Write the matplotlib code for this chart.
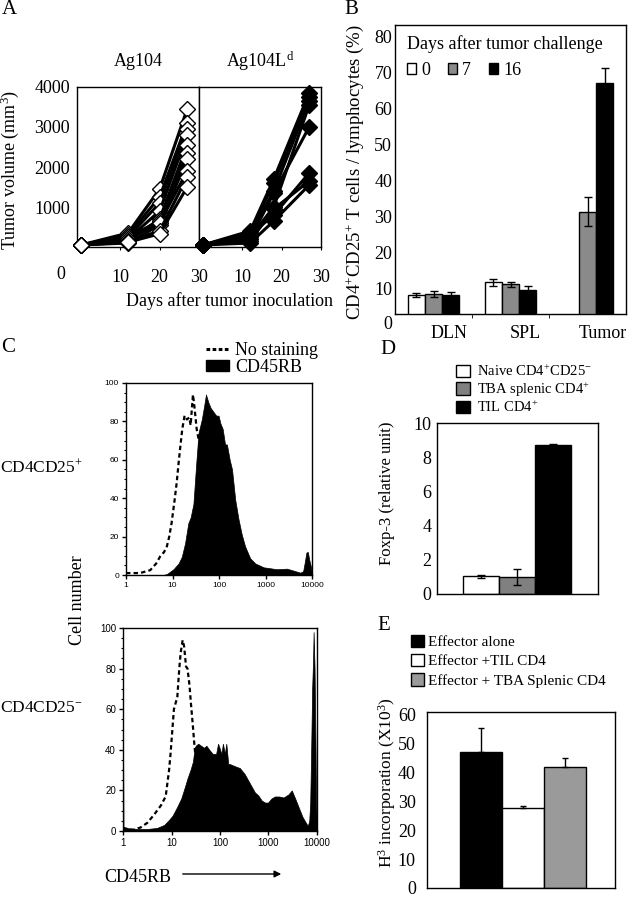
import matplotlib
matplotlib.use("Agg")
import matplotlib.pyplot as plt
import matplotlib.transforms as mtrans
from matplotlib.patches import Patch
from matplotlib.lines import Line2D
import numpy as np

plt.rcParams['font.family'] = ['Liberation Serif', 'DejaVu Serif']
plt.rcParams['mathtext.fontset'] = 'custom'
plt.rcParams['mathtext.rm'] = 'Liberation Serif'
plt.rcParams['mathtext.it'] = 'Liberation Serif:italic'
plt.rcParams['mathtext.bf'] = 'Liberation Serif:bold'
plt.rcParams['axes.linewidth'] = 1.0

# ---------------- data ----------------
# A: tumor growth, one list per time point, one value per mouse
ag104_days = [0, 12, 20, 27]
ag104_d0 = [50, 50, 50, 50, 50, 50, 50, 50, 50, 50]
ag104_d12 = [350, 300, 250, 200, 150, 250, 100, 200, 150, 120]
ag104_d20 = [1450, 1250, 1100, 900, 700, 650, 550, 600, 400, 330]
ag104_d27 = [3450, 3100, 2950, 2800, 2550, 2350, 2200, 1900, 1750, 1500]

ag104ld_days = [0, 12, 18, 27]
ag104ld_d0 = [50, 50, 50, 50, 50, 50, 50, 50]
ag104ld_d12 = [400, 350, 300, 250, 200, 300, 150, 100]
ag104ld_d18 = [1700, 1600, 1400, 1000, 1350, 800, 950, 650]
ag104ld_d27 = [3850, 3750, 3650, 3550, 3000, 1850, 1650, 1550]

# B: CD4+CD25+ percentage
groups_b = ['DLN', 'SPL', 'Tumor']
day0 = [8.0, 11.6, 0.0]
day0_err = [0.6, 0.9, 0.0]
day7 = [8.3, 11.0, 31.2]
day7_err = [0.9, 0.6, 4.0]
day16 = [8.0, 9.4, 67.1]
day16_err = [0.9, 1.2, 4.0]

# C: CD45RB histograms (log10 of fluorescence, cell number)
pos_nostain_lx = [0, 0.3, 0.52, 0.65, 0.73, 0.82, 0.88, 0.93, 0.98, 1.04, 1.09, 1.13,
                  1.16, 1.21, 1.26, 1.31, 1.36, 1.39, 1.44, 1.47, 1.52, 1.59, 1.66,
                  1.75, 1.85, 2.0, 2.2, 2.5, 3.0, 4.0]
pos_nostain = [1, 1, 2.5, 6, 9.5, 12, 15, 20, 27, 38, 48, 58, 65, 76, 83, 81, 82, 78,
               94, 88, 76, 67, 50, 32, 16, 6, 2, 0.5, 0, 0]
pos_rb_lx = [0.8, 0.88, 1.02, 1.13, 1.2, 1.27, 1.34, 1.39, 1.45, 1.49, 1.51, 1.56,
             1.63, 1.68, 1.72, 1.77, 1.82, 1.88, 1.94, 1.99, 2.03, 2.08, 2.13, 2.17,
             2.23, 2.28, 2.35, 2.42, 2.49, 2.56, 2.67, 2.78, 2.96, 3.25, 3.46, 3.6,
             3.75, 3.81, 3.84, 3.88, 3.91, 3.94, 3.98, 4.0]
pos_rb = [0, 0.5, 3, 6, 9.5, 16.5, 27, 30, 37, 51, 58, 74, 81, 88, 94, 90, 87, 85,
          83, 83, 79, 76, 68, 68, 60, 55, 39, 29, 21, 15, 8.7, 6, 4, 3, 3.3, 2.3,
          1.2, 2, 6, 11.7, 12, 8, 4, 0]

neg_nostain_lx = [0, 0.2, 0.36, 0.5, 0.64, 0.78, 0.88, 0.95, 0.98, 1.05, 1.12, 1.16,
                  1.19, 1.23, 1.26, 1.30, 1.33, 1.37, 1.40, 1.44, 1.47, 1.52, 1.6,
                  1.7, 1.85, 2.0, 2.5, 4.0]
neg_nostain = [1.5, 0.5, 1.7, 4, 8, 12.5, 17, 30, 38, 60, 66, 80, 88, 94, 91, 81, 80,
               72, 63, 52, 43, 30, 15, 6, 2, 0.5, 0, 0]
neg_rb_lx = [0, 0.01, 0.05, 0.3, 0.5, 0.7, 0.85, 0.95, 1.02, 1.12, 1.2, 1.28, 1.33,
             1.39, 1.44, 1.48, 1.5, 1.55, 1.61, 1.67, 1.72, 1.78, 1.85, 1.92, 1.96,
             1.99, 2.03, 2.06, 2.1, 2.13, 2.17, 2.2, 2.3, 2.41, 2.51, 2.58, 2.65,
             2.72, 2.79, 2.86, 2.93, 2.99, 3.06, 3.13, 3.22, 3.31, 3.41, 3.48, 3.55,
             3.6, 3.65, 3.7, 3.76, 3.81, 3.84, 3.86, 3.88, 3.9, 3.92, 3.93, 3.95,
             3.97, 3.98, 4.0]
neg_rb = [50, 2, 1.5, 1, 1, 1.5, 3, 5.5, 7.5, 12, 16, 22, 26, 30, 34, 41, 42, 43, 42,
          41, 42, 40, 38, 38, 43, 41, 38, 43, 38, 43, 33, 33, 32, 31, 28, 25, 22, 19,
          17.5, 15, 14, 14, 16, 17, 17, 16.5, 18, 20, 16, 13, 10, 7, 4.5, 2.5, 5, 14,
          40, 70, 85, 98, 80, 40, 15, 0]
hist_ticks = [1, 10, 100, 1000, 10000]
hist_ticklabels = ['1', '10', '100', '1000', '10000']

# D: Foxp-3
foxp3_labels = ['Naive CD4$^{+}$CD25$^{-}$', 'TBA splenic CD4$^{+}$', 'TIL CD4$^{+}$']
foxp3 = [1.04, 1.0, 8.7]
foxp3_err = [0.1, 0.45, 0.05]

# E: H3 incorporation
h3_labels = ['Effector alone', 'Effector +TIL CD4', 'Effector + TBA Splenic CD4']
h3 = [47.0, 27.6, 41.8]
h3_err = [8.6, 0.9, 3.2]

# ---------------- figure ----------------
W, H = 631, 899
fig = plt.figure(figsize=(W / 100, H / 100), dpi=100)


def box(l, t, r, b):
    return [l / W, 1 - b / H, (r - l) / W, (b - t) / H]


def ftext(x, y, s, **kw):
    fig.text(x / W, 1 - y / H, s, **kw)


# panel letters
for letter, (lx, ly) in {'A': (9, 10), 'B': (351, 9), 'C': (8, 347),
                         'D': (388, 350), 'E': (384, 626)}.items():
    ftext(lx, ly, letter, fontsize=15, ha='center', va='center')

# ---- A ----
axA1 = fig.add_axes(box(77, 87, 199, 247))
axA2 = fig.add_axes(box(199, 87, 321, 247))
seriesA = [
    (axA1, ag104_days, [ag104_d0, ag104_d12, ag104_d20, ag104_d27], 'white', 'Ag104'),
    (axA2, ag104ld_days, [ag104ld_d0, ag104ld_d12, ag104ld_d18, ag104ld_d27], 'black',
     'Ag104L$^{\\mathrm{d}}$'),
]
for ax, days, cols, fc, title in seriesA:
    n = len(cols[0])
    for i in range(n):
        ax.plot(days, [c[i] for c in cols], '-', color='black', lw=2.2,
                marker='D', ms=8, mfc=fc, mec='black', mew=1, clip_on=False,
                zorder=3)
    ax.set_xlim(-1, 30)
    ax.set_ylim(0, 4000)
    ax.set_xticks([10, 20, 30])
    ax.tick_params(axis='x', labelsize=13, length=2, pad=14)
    ax.text(0.5, 1.16, title, transform=ax.transAxes, ha='center', va='center',
            fontsize=13)
axA1.set_yticks([1000, 2000, 3000, 4000])
axA1.tick_params(axis='y', labelsize=13, length=0, pad=5)
axA2.set_yticks([])
axA1.text(-5, -0.12, '0', transform=mtrans.blended_transform_factory(axA1.transData,
          axA1.transAxes), ha='center', va='top', fontsize=13)
ftext(230, 301, 'Days after tumor inoculation', fontsize=13, ha='center', va='center')
ftext(10, 170, 'Tumor volume (mm$^{3}$)', fontsize=13, rotation=90,
      ha='center', va='center')

# ---- B ----
axB = fig.add_axes(box(395, 25, 626, 314))
xb = np.arange(len(groups_b))
wb = 0.222
colors_b = ['white', '#8a8a8a', 'black']
for off, vals, errs, c, lab in [(-wb, day0, day0_err, colors_b[0], '0'),
                                (0, day7, day7_err, colors_b[1], '7'),
                                (wb, day16, day16_err, colors_b[2], '16')]:
    axB.bar(xb + off, vals, wb, color=c, edgecolor='black', lw=1, label=lab,
            yerr=errs, capsize=3, error_kw=dict(lw=1, ecolor='black', capthick=1))
axB.set_xlim(-0.5, 2.5)
axB.set_ylim(2.8, 83.1)
axB.set_yticks(np.arange(10, 90, 10))
axB.tick_params(axis='y', labelsize=13, length=0, pad=2)
axB.set_xticks(xb)
axB.set_xticklabels(groups_b, fontsize=13)
axB.tick_params(axis='x', length=0, pad=8)
shift = mtrans.ScaledTranslation(15 / 100, 0, fig.dpi_scale_trans)
for t in axB.get_xticklabels():
    t.set_transform(t.get_transform() + shift)
axB.set_xticks([0.5, 1.5], minor=True)
axB.tick_params(axis='x', which='minor', length=3, direction='out')
axB.text(-0.01, 0, '0', transform=mtrans.blended_transform_factory(axB.transAxes,
         axB.transData), ha='right', va='center', fontsize=13, clip_on=False)
legB = axB.legend(title='Days after tumor challenge', ncol=3, loc='upper left',
                  bbox_to_anchor=(0.05, 0.965), frameon=False, fontsize=13,
                  title_fontsize=13, handlelength=0.5, handleheight=0.5,
                  handletextpad=0.3, columnspacing=1.0, borderpad=0,
                  borderaxespad=0, alignment='left')
ftext(355, 172, 'CD4$^{+}$CD25$^{+}$ T cells / lymphocytes (%)', fontsize=13.5,
      rotation=90, ha='center', va='center')

# ---- C ----
axC1 = fig.add_axes(box(126, 383, 312, 575))
axC2 = fig.add_axes(box(123, 628, 317, 831))
for ax, nlx, ny, rlx, ry, fs in [
        (axC1, pos_nostain_lx, pos_nostain, pos_rb_lx, pos_rb, 6),
        (axC2, neg_nostain_lx, neg_nostain, neg_rb_lx, neg_rb, 7)]:
    ax.plot(10 ** np.array(nlx), ny, color='black', lw=1.6, ls=(0, (2, 1.4)), zorder=2)
    ax.fill_between(10 ** np.array(rlx), 0, ry, color='black', lw=0.5, zorder=3)
    ax.set_xscale('log')
    ax.set_xlim(1, 10000)
    ax.set_ylim(0, 100)
    ax.set_xticks(hist_ticks)
    ax.set_xticklabels(hist_ticklabels, family='Liberation Sans', fontsize=fs)
    ax.set_yticks([0, 20, 40, 60, 80, 100])
    ax.set_yticklabels(['0', '20', '40', '60', '80', '100'], family='Liberation Sans',
                       fontsize=fs)
    ax.set_yticks(np.arange(0, 101, 5), minor=True)
    ax.tick_params(which='major', direction='out', length=3, width=1, pad=2)
    ax.tick_params(which='minor', direction='out', length=1.5, width=0.8)
    ax.tick_params(axis='x', which='minor', labelbottom=False)
handlesC = [Line2D([], [], color='black', lw=2.2, ls=(0, (1.2, 0.8))),
            Patch(facecolor='black', edgecolor='black')]
axC1.legend(handlesC, ['No staining', 'CD45RB'], loc='upper left',
            bbox_to_anchor=(0.43, 1.215), frameon=False, fontsize=13,
            handlelength=1.3, handleheight=0.6, handletextpad=0.3,
            labelspacing=0.0, borderpad=0, borderaxespad=0)
ftext(41, 467, 'CD4CD25$^{+}$', fontsize=12.5, ha='center', va='center')
ftext(41, 708, 'CD4CD25$^{-}$', fontsize=12.5, ha='center', va='center')
ftext(78, 600, 'Cell number', fontsize=13, rotation=90, ha='center', va='center')
ftext(138, 877, 'CD45RB', fontsize=13, ha='center', va='center')
axC2.annotate('', xy=(284, H - 874), xytext=(180, H - 874), xycoords='figure pixels',
              textcoords='figure pixels',
              arrowprops=dict(arrowstyle='-|>', lw=1, color='black',
                              mutation_scale=10))

# ---- D ----
axD = fig.add_axes(box(437, 423, 598, 594))
xd = np.arange(len(foxp3))
colors_d = ['white', '#808080', 'black']
barsD = axD.bar(xd, foxp3, 1.0, color=colors_d, edgecolor='black', lw=1,
                yerr=foxp3_err, capsize=3,
                error_kw=dict(lw=1, ecolor='black', capthick=1))
axD.set_xlim(-1.22, 3.25)
axD.set_ylim(0, 10)
axD.set_yticks(np.arange(0, 11, 2))
axD.set_xticks([])
axD.tick_params(axis='y', labelsize=13, length=0, pad=4)
axD.legend(barsD.patches, foxp3_labels, loc='upper left', bbox_to_anchor=(0.12, 1.345),
           frameon=False, fontsize=10.5, handlelength=0.95, handleheight=0.9,
           handletextpad=0.5, labelspacing=0.08, borderpad=0, borderaxespad=0)
ftext(387, 493, 'Foxp-3 (relative unit)', fontsize=12, rotation=90,
      ha='center', va='center')

# ---- E ----
axE = fig.add_axes(box(427, 712, 615, 888))
xe = np.arange(len(h3))
colors_e = ['black', 'white', '#9a9a9a']
barsE = axE.bar(xe, h3, 1.0, color=colors_e, edgecolor='black', lw=1,
                yerr=[[0, 0, 0], h3_err], capsize=2,
                error_kw=dict(lw=1, ecolor='black', capthick=1))
axE.set_xlim(-1.29, 3.19)
axE.set_ylim(0, 61)
axE.set_yticks(np.arange(0, 61, 10))
axE.set_xticks([])
axE.tick_params(axis='y', labelsize=13, length=0, pad=8)
axE.legend(barsE.patches, h3_labels, loc='upper left', bbox_to_anchor=(-0.085, 1.44),
           frameon=False, fontsize=11, handlelength=0.85, handleheight=0.9,
           handletextpad=0.25, labelspacing=0.3, borderpad=0, borderaxespad=0)
ftext(387, 783, 'H$^{3}$ incorporation (X10$^{3}$)', fontsize=12.5, rotation=90,
      ha='center', va='center')

fig.savefig('out.png', dpi=100)
